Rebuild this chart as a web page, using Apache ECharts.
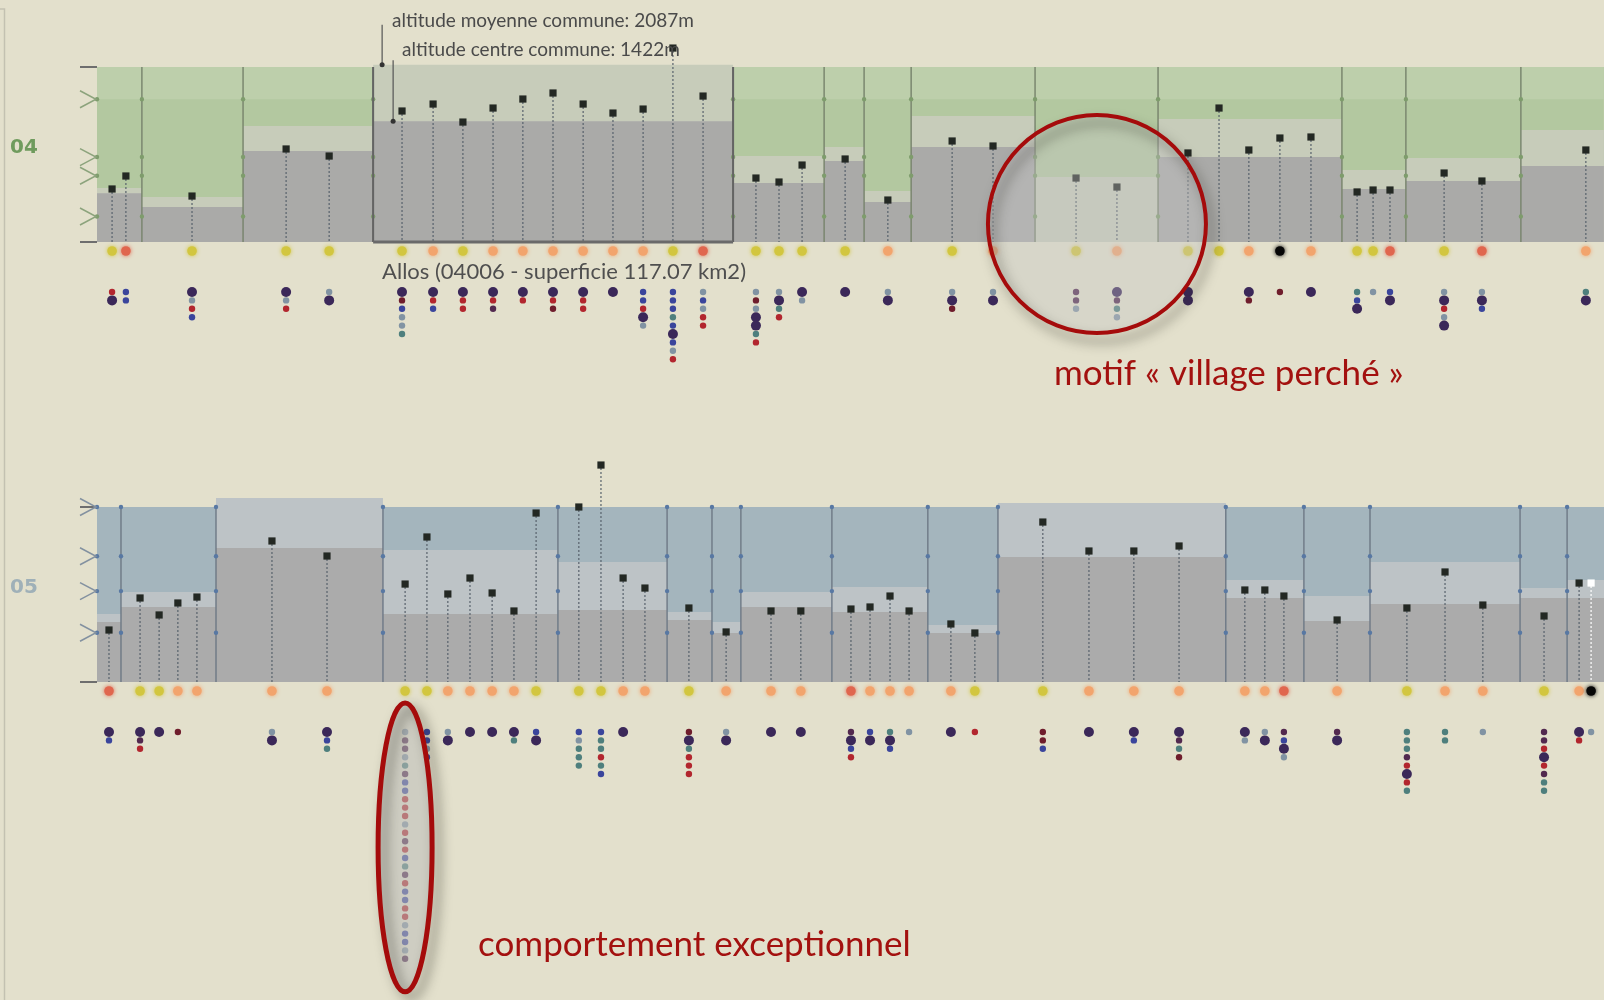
<!DOCTYPE html>
<html lang="fr">
<head>
<meta charset="utf-8">
<title>Altitudes des communes - 04 / 05</title>
<script src="https://cdn.jsdelivr.net/npm/echarts@6/dist/echarts.min.js"></script>
<style>
  html, body { margin: 0; padding: 0; background: #e3e0cc; }
  #chart { width: 1604px; height: 1000px; }
</style>
</head>
<body>
<div id="chart"></div>
<script>
// --- 04 : surfaces des communes (km2) dans l'ordre de la frise, altitudes (m)
const surfaces04 = [14.6, 32.9, 42.3, 117.07, 29.6, 13.0, 15.3, 40.3, 40.0, 59.8, 20.8, 37.4, 27.0];
const centre04 = [575, 412, 1071, 1422, 694, 953, 471, 1118, 0, 1000, 624, 718, 895];
const moyenne04 = [636, 530, 1365, 2087, 1012, 1118, 600, 1483, 765, 1448, 847, 989, 1318];
const seuils04 = [300, 780, 1000, 1680];
const siteX04 = [4.9, 9.4, 30.9, 61.5, 75.5, 99.2, 109.3, 119.0, 128.8, 138.5, 148.3, 158.1, 167.8, 177.6, 187.3, 197.1, 214.3, 221.8, 229.3, 243.3, 257.2, 278.1, 291.4, 318.4, 331.7, 354.8, 364.9, 374.6, 384.7, 394.8, 409.8, 415.0, 420.5, 438.1, 450.4, 484.2];
const siteAlt04 = [624, 777, 541, 1095, 1012, 1542, 1624, 1412, 1577, 1683, 1754, 1624, 1518, 1565, 2283, 1718, 753, 706, 906, 977, 494, 1189, 1130, 753, 647, 1048, 1577, 1083, 1224, 1236, 589, 612, 612, 812, 718, 1083];
const classe04 = ['y','r','y','y','y','y','o','y','o','o','o','o','o','o','y','r','y','y','y','y','o','y','o','y','o','y','y','o','k','o','y','y','r','y','r','o'];
const points04 = ['rP','bb','Pgrb','Pgr','gP','Pmbggt','Prb','Prr','Prp','Pr','Prm','Prr','P','bbrPg','bbbtbPbgr','gbgrr','gmgPPtr','gPtr','Pg','P','gP','gPm','gP','ppg','Pptg','PP','','Pm','m','P','tbP','g','bP','gPrgP','gPb','tP'];
const selection04 = { index: 3, nom: 'Allos', code: '04006' };
const village04 = [325.2, 212];

// --- 05
const surfaces05 = [7.8, 30.9, 54.3, 56.9, 35.5, 14.6, 9.4, 29.6, 31.2, 22.8, 74.1, 25.4, 21.5, 48.8, 15.3, 12.0];
const centre05 = [706, 883, 1577, 800, 847, 730, 577, 883, 824, 577, 1471, 989, 718, 918, 989, 989];
const moyenne05 = [800, 1059, 2166, 1554, 1412, 824, 706, 1059, 1118, 671, 2107, 1200, 1012, 1412, 1106, 1200];
const seuils05 = [580, 1070, 1480, 2060];
const siteX05 = [3.9, 14.0, 20.2, 26.3, 32.5, 56.9, 74.8, 100.2, 107.3, 114.1, 121.3, 128.5, 135.6, 142.8, 156.7, 163.9, 171.1, 178.2, 192.5, 204.6, 219.2, 228.9, 245.2, 251.4, 257.9, 264.1, 277.7, 285.5, 307.6, 322.6, 337.2, 351.9, 373.3, 379.8, 386.0, 403.3, 426.0, 438.4, 450.7, 470.6, 482.0, 485.9];
const siteAlt05 = [612, 989, 789, 930, 1000, 1660, 1483, 1153, 1707, 1036, 1224, 1048, 836, 1989, 2060, 2554, 1224, 1106, 871, 589, 836, 836, 859, 883, 1012, 836, 683, 577, 1883, 1542, 1542, 1601, 1083, 1083, 1012, 730, 871, 1295, 906, 777, 1165, 1165];
const classe05 = ['r','y','y','o','o','o','o','y','y','o','o','o','o','y','y','y','o','o','y','o','o','o','r','o','o','o','o','y','y','o','o','o','o','o','r','o','y','o','o','y','o','k'];
const points05 = ['Pb','Ppr','P','m','','gP','Pbt','gppgtpbbrrrgrprbtprbbrrgbbgp','bbgb','gP','P','P','Pt','bP','bgttt','bttrtb','P','','mPtrrr','gP','P','P','pPbr','bP','tPb','g','P','r','mmb','P','Pb','Pptm','Pg','gP','pbPg','pP','tttprPrt','tt','g','pprPrptt','Pr','g'];
const siteBlanc05 = 41;

const ALT_MAX = 2060;
const SURF_MAX = 490.1;

const couleursClasse = { y: '#d2c63f', o: '#f2a46d', r: '#e0664e', k: '#060606' };
const couleursPoint = { P: '#3b2859', p: '#52294f', b: '#3a459c', g: '#8193a3', t: '#4e7f7d', r: '#b2262e', m: '#6f1d2c' };

const panneaux = [
  { titre: '04', couleurTitre: '#6f9b5d', top: 67, surfaces: surfaces04, centres: centre04, moyennes: moyenne04,
    seuils: seuils04, x: siteX04, alt: siteAlt04, classes: classe04, points: points04,
    fond: '#b3c8a0', fondHaut: '#bdcfab', clair: '#c7ccba', fonce: '#aaaaa8',
    trait: '#76826b', pointSeuil: '#7e9c6c', chevron: '#8ca37c' },
  { titre: '05', couleurTitre: '#9fb0b8', top: 507, surfaces: surfaces05, centres: centre05, moyennes: moyenne05,
    seuils: seuils05, x: siteX05, alt: siteAlt05, classes: classe05, points: points05,
    fond: '#a4b5bd', fondHaut: null, clair: '#bdc3c6', fonce: '#ababab',
    trait: '#6d7885', pointSeuil: '#5878a3', chevron: '#8391a0' }
];

function communes(p) {
  let x = 0;
  return p.surfaces.map((s, i) => {
    const item = [x, x + s, p.centres[i], p.moyennes[i]];
    x += s;
    return item;
  });
}

function rect(x0, y0, x1, y1, fill) {
  return { type: 'rect', shape: { x: x0, y: y0, width: x1 - x0, height: y1 - y0 }, style: { fill } };
}

const grids = [], xAxes = [], yAxes = [], series = [], titles = [];

panneaux.forEach((p, k) => {
  grids.push({ left: 97, right: 0, top: p.top, height: 175 });
  xAxes.push({ type: 'value', gridIndex: k, min: 0, max: SURF_MAX, show: false });
  yAxes.push({
    type: 'value', gridIndex: k, min: 0, max: ALT_MAX, interval: ALT_MAX,
    axisLine: { show: false }, axisLabel: { show: false }, splitLine: { show: false },
    axisTick: { show: true, length: 17, lineStyle: { color: '#6e6e6e', width: 2 } }
  });
  titles.push({ text: p.titre, left: 10, top: p.top + 71, padding: 0,
    textStyle: { color: p.couleurTitre, fontSize: 20, fontWeight: 'bold', fontFamily: 'DejaVu Sans' } });

  const axes = { xAxisIndex: k, yAxisIndex: k };
  const segs = communes(p);

  // fonds des communes
  series.push({
    type: 'custom', ...axes, data: segs, silent: true,
    renderItem: (params, api) => {
      const x0 = api.value(0), x1 = api.value(1);
      const hg = api.coord([x0, ALT_MAX]), bd = api.coord([x1, 0]);
      const yMoy = api.coord([x0, api.value(3)])[1];
      const yCen = api.coord([x0, api.value(2)])[1];
      const children = [rect(hg[0], hg[1], bd[0], bd[1], p.fond)];
      if (p.fondHaut) {
        const yZ = api.coord([x0, p.seuils[p.seuils.length - 1]])[1];
        children.push(rect(hg[0], hg[1], bd[0], yZ, p.fondHaut));
      }
      children.push(rect(hg[0], yMoy, bd[0], bd[1], p.clair));
      if (api.value(2) > 0) children.push(rect(hg[0], yCen, bd[0], bd[1], p.fonce));
      return { type: 'group', children };
    }
  });

  // limites de communes + repères de seuils
  series.push({
    type: 'custom', ...axes, data: segs, silent: true,
    renderItem: (params, api) => {
      const x0 = api.value(0);
      const h = api.coord([x0, ALT_MAX]), b = api.coord([x0, 0]);
      const children = [];
      if (params.dataIndex > 0) {
        children.push({ type: 'line', shape: { x1: h[0], y1: h[1], x2: b[0], y2: b[1] },
          style: { stroke: p.trait, lineWidth: 1.4 } });
      }
      p.seuils.forEach(s => {
        const c = api.coord([x0, s]);
        children.push({ type: 'circle', shape: { cx: c[0], cy: c[1], r: 2.2 }, style: { fill: p.pointSeuil } });
      });
      return { type: 'group', children };
    }
  });

  // chevrons de l'axe
  series.push({
    type: 'custom', ...axes, data: p.seuils.map(s => [0, s]), silent: true,
    renderItem: (params, api) => {
      const c = api.coord([0, api.value(1)]);
      return { type: 'polyline',
        shape: { points: [[c[0] - 17, c[1] - 8.5], [c[0] - 1, c[1]], [c[0] - 17, c[1] + 8.5]] },
        style: { stroke: p.chevron, fill: 'none', lineWidth: 1.5 } };
    }
  });

  // sites : tige pointillée + carré
  series.push({
    type: 'custom', ...axes, data: p.x.map((x, i) => [x, p.alt[i]]), silent: true,
    renderItem: (params, api) => {
      const t = api.coord([api.value(0), api.value(1)]), b = api.coord([api.value(0), 0]);
      const blanc = k === 1 && params.dataIndex === siteBlanc05;
      return { type: 'group', children: [
        { type: 'line', shape: { x1: t[0], y1: t[1] + 3, x2: b[0], y2: b[1] },
          style: { stroke: blanc ? '#ffffff' : '#58626c', lineWidth: 1.2, lineDash: [2, 2] } },
        rect(t[0] - 3.6, t[1] - 3.6, t[0] + 3.6, t[1] + 3.6, blanc ? '#ffffff' : '#232823')
      ] };
    }
  });

  // classes sous l'axe
  series.push({
    type: 'custom', ...axes, data: p.x.map(x => [x, 0]), silent: true,
    renderItem: (params, api) => {
      const b = api.coord([api.value(0), 0]);
      const col = couleursClasse[p.classes[params.dataIndex]];
      return { type: 'circle', shape: { cx: b[0], cy: b[1] + 9, r: 4.8 },
        style: { fill: col, shadowBlur: 4, shadowColor: col } };
    }
  });

  // colonnes de points
  series.push({
    type: 'custom', ...axes, data: p.x.map(x => [x, 0]), silent: true,
    renderItem: (params, api) => {
      const b = api.coord([api.value(0), 0]);
      const code = p.points[params.dataIndex];
      const children = code.split('').map((c, j) => ({
        type: 'circle',
        shape: { cx: b[0], cy: b[1] + 50 + j * 8.4, r: c === 'P' ? 5 : 3.2 },
        style: { fill: couleursPoint[c] }
      }));
      return { type: 'group', children };
    }
  });

  if (k === 0) {
    // commune sélectionnée (Allos)
    const s = selection04.index;
    series.push({
      type: 'custom', ...axes, data: [segs[s]], silent: true,
      renderItem: (params, api) => {
        const x0 = api.value(0), x1 = api.value(1);
        const hg = api.coord([x0, ALT_MAX]), bd = api.coord([x1, 0]);
        const yMoy = api.coord([x0, api.value(3)])[1];
        const yCen = api.coord([x0, api.value(2)])[1];
        const txt = (text, x, y, size, fill) => ({ type: 'text',
          style: { text, x, y, fill, fontSize: size, fontFamily: 'Lato', verticalAlign: 'middle' } });
        const surf = surfaces04[s].toFixed(2);
        return { type: 'group', children: [
          { type: 'line', shape: { x1: hg[0], y1: hg[1], x2: hg[0], y2: bd[1] }, style: { stroke: '#646464', lineWidth: 2 } },
          { type: 'line', shape: { x1: bd[0], y1: hg[1], x2: bd[0], y2: bd[1] }, style: { stroke: '#646464', lineWidth: 2 } },
          { type: 'line', shape: { x1: hg[0], y1: bd[1], x2: bd[0], y2: bd[1] }, style: { stroke: '#6a6a6a', lineWidth: 3 } },
          { type: 'line', shape: { x1: hg[0] + 9, y1: yMoy, x2: hg[0] + 9, y2: yMoy - 40 }, style: { stroke: '#555', lineWidth: 1.2 } },
          { type: 'circle', shape: { cx: hg[0] + 9, cy: yMoy, r: 2.5 }, style: { fill: '#333' } },
          txt('altitude moyenne commune: ' + moyenne04[s] + 'm', hg[0] + 19, yMoy - 44, 19, '#4a4a4a'),
          { type: 'line', shape: { x1: hg[0] + 20, y1: yCen, x2: hg[0] + 20, y2: yCen - 61 }, style: { stroke: '#555', lineWidth: 1.2 } },
          { type: 'circle', shape: { cx: hg[0] + 20, cy: yCen, r: 2.5 }, style: { fill: '#333' } },
          txt('altitude centre commune: ' + centre04[s] + 'm', hg[0] + 29, yCen - 71, 19, '#4a4a4a'),
          txt(selection04.nom + ' (' + selection04.code + ' - superficie ' + surf + ' km2)', hg[0] + 9, bd[1] + 30, 22, '#4f4f4f')
        ] };
      }
    });
    // loupe "village perché"
    series.push({
      type: 'custom', ...axes, data: [village04], silent: true, z: 10,
      renderItem: (params, api) => {
        const c = api.coord([api.value(0), api.value(1)]);
        return { type: 'group', children: [
          { type: 'circle', shape: { cx: c[0], cy: c[1], r: 109 }, style: { fill: 'rgba(198,198,196,0.38)' } },
          { type: 'circle', shape: { cx: c[0], cy: c[1], r: 109 },
            style: { fill: 'none', stroke: '#a50b0b', lineWidth: 4, shadowBlur: 12, shadowOffsetX: 5, shadowOffsetY: 8, shadowColor: 'rgba(40,40,30,0.55)' } },
          { type: 'text', style: { text: 'motif « village perché »', x: c[0] - 43, y: c[1] + 150,
            fill: '#a3110f', fontSize: 35, fontFamily: 'Lato', verticalAlign: 'middle' } }
        ] };
      }
    });
  } else {
    // colonne la plus longue : comportement exceptionnel
    let iMax = 0;
    p.points.forEach((c, i) => { if (c.length > p.points[iMax].length) iMax = i; });
    const n = p.points[iMax].length;
    series.push({
      type: 'custom', ...axes, data: [[p.x[iMax], 0]], silent: true, z: 10,
      renderItem: (params, api) => {
        const b = api.coord([api.value(0), 0]);
        const demi = (n - 1) * 8.4 / 2;
        const cy = b[1] + 50 + demi + 2;
        return { type: 'group', children: [
          { type: 'ellipse', shape: { cx: b[0], cy, rx: 27, ry: demi + 31 }, style: { fill: 'rgba(190,190,186,0.55)' } },
          { type: 'ellipse', shape: { cx: b[0], cy, rx: 27, ry: demi + 31 },
            style: { fill: 'none', stroke: '#a50b0b', lineWidth: 5, shadowBlur: 12, shadowOffsetX: 6, shadowOffsetY: 6, shadowColor: 'rgba(40,40,30,0.55)' } },
          { type: 'text', style: { text: 'comportement exceptionnel', x: b[0] + 73, y: cy + 97,
            fill: '#a3110f', fontSize: 35, fontFamily: 'Lato', verticalAlign: 'middle' } }
        ] };
      }
    });
  }
});

const chart = echarts.init(document.getElementById('chart'));
chart.setOption({
  backgroundColor: '#e3e0cc',
  animation: false,
  title: titles,
  grid: grids,
  xAxis: xAxes,
  yAxis: yAxes,
  graphic: [{
    type: 'polyline', silent: true,
    shape: { points: [[0, 9], [4.5, 9], [4.5, 1000]] },
    style: { stroke: '#c3c1b1', lineWidth: 1.5, fill: 'none' }
  }],
  series
});
window.addEventListener('resize', () => chart.resize());
</script>
</body>
</html>
